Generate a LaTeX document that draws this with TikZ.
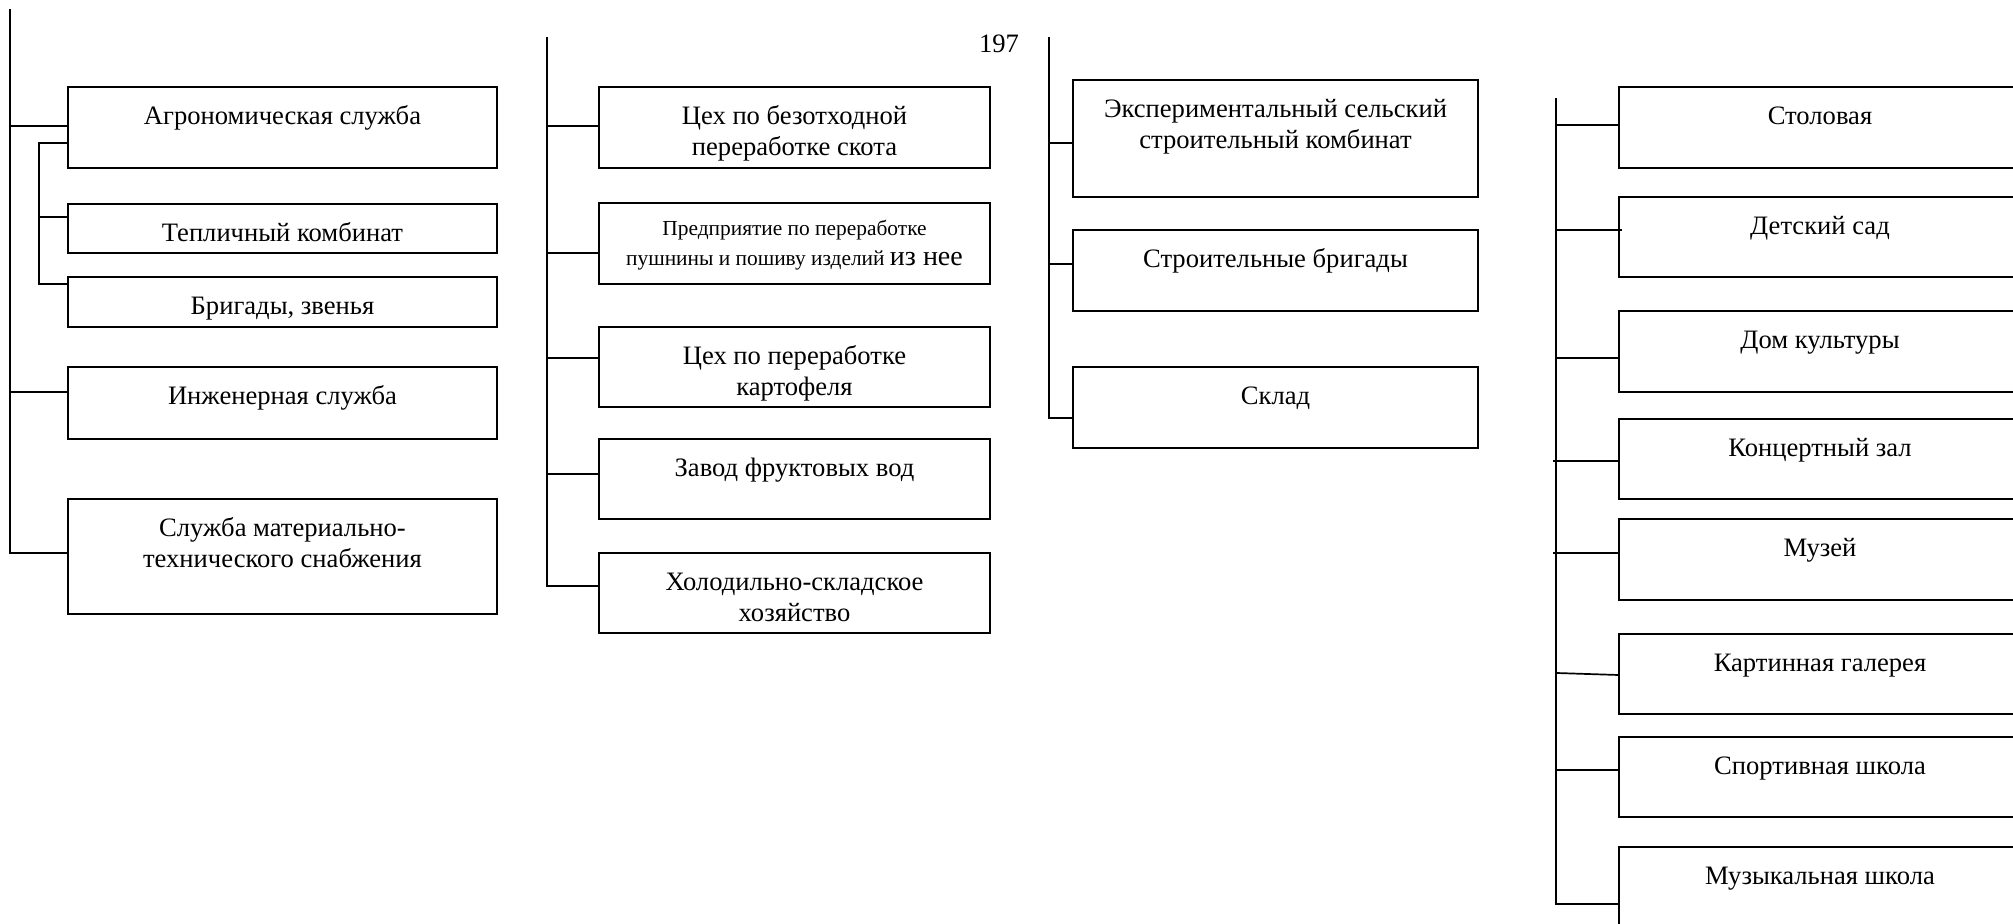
\documentclass[tikz,border=0pt]{standalone}
\usepackage{fontspec}
\setmainfont{Liberation Serif}
\newcommand\mainsz{\fontsize{13.3}{15.5}\selectfont}
\newcommand\smallsz{\fontsize{10.7}{15}\selectfont}
\newcommand\bigsz{\fontsize{14}{15}\selectfont}

\begin{document}
\begin{tikzpicture}[x=0.5pt, y=-0.5pt,
  unit/.style 2 args={draw, line width=1pt, anchor=north west, inner sep=0pt,
    outer sep=0pt, minimum width=#1*0.5pt, minimum height=#2*0.5pt},
  boxtext/.style={anchor=north, inner sep=0pt, align=center, font=\mainsz, yshift=-7.8pt},
  boxtextsmall/.style={anchor=north, inner sep=0pt, align=center, font=\smallsz, yshift=-5.7pt},
  link/.style={line width=0.85pt}
]
\useasboundingbox (0,0) rectangle (2013,923);
\clip (0,0) rectangle (2013,923);

% page number
\node[font=\mainsz, anchor=base, inner sep=0pt] (pnum) at (999,52) {197};

% ---------- column 1: services ----------
\node[unit={429}{81}]  (agro) at (68,87)  {};
\node[unit={429}{49}]  (tepl) at (68,204) {};
\node[unit={429}{50}]  (brig) at (68,277) {};
\node[unit={429}{72}]  (inzh) at (68,367) {};
\node[unit={429}{115}] (mts)  at (68,499) {};
\node[boxtext] (agro-t) at (agro.north) {\strut Агрономическая служба};
\node[boxtext] (tepl-t) at (tepl.north) {\strut Тепличный комбинат};
\node[boxtext] (brig-t) at (brig.north) {\strut Бригады, звенья};
\node[boxtext] (inzh-t) at (inzh.north) {\strut Инженерная служба};
\node[boxtext] (mts-t)  at (mts.north)  {\strut Служба материально-\\технического снабжения};

\coordinate (a0) at (10,9);
\coordinate (a1) at (10,126);
\coordinate (a2) at (10,392);
\coordinate (a3) at (10,553);
\draw[link] (a0) -- (a3) -- (a3 -| mts.west);
\draw[link] (a1) -- (a1 -| agro.west);
\draw[link] (a2) -- (a2 -| inzh.west);

\coordinate (b1) at (39,143);
\coordinate (b2) at (39,217);
\coordinate (b3) at (39,284);
\draw[link] (b1 -| agro.west) -- (b1) -- (b3) -- (b3 -| brig.west);
\draw[link] (b2) -- (b2 -| tepl.west);

% ---------- column 2: processing ----------
\node[unit={391}{81}] (cex)  at (599,87)  {};
\node[unit={391}{81}] (pred) at (599,203) {};
\node[unit={391}{80}] (kart) at (599,327) {};
\node[unit={391}{80}] (zav)  at (599,439) {};
\node[unit={391}{80}] (hol)  at (599,553) {};
\node[boxtext] (cex-t)  at (cex.north)  {\strut Цех по безотходной\\переработке скота};
\node[boxtextsmall] (pred-t) at (pred.north) {\strut Предприятие по переработке\\пушнины и пошиву изделий {\bigsz из нее}};
\node[boxtext] (kart-t) at (kart.north) {\strut Цех по переработке\\картофеля};
\node[boxtext] (zav-t)  at (zav.north)  {\strut Завод фруктовых вод};
\node[boxtext] (hol-t)  at (hol.north)  {\strut Холодильно-складское\\хозяйство};

\coordinate (c0) at (547,37);
\coordinate (c1) at (547,126);
\coordinate (c2) at (547,253);
\coordinate (c3) at (547,358);
\coordinate (c4) at (547,474);
\coordinate (c5) at (547,586);
\draw[link] (c0) -- (c5) -- (c5 -| hol.west);
\draw[link] (c1) -- (c1 -| cex.west);
\draw[link] (c2) -- (c2 -| pred.west);
\draw[link] (c3) -- (c3 -| kart.west);
\draw[link] (c4) -- (c4 -| zav.west);

% ---------- column 3: construction ----------
\node[unit={405}{117}] (esk)  at (1073,80)  {};
\node[unit={405}{81}]  (sbr)  at (1073,230) {};
\node[unit={405}{81}]  (skl)  at (1073,367) {};
\node[boxtext] (esk-t) at (esk.north) {\strut Экспериментальный сельский\\строительный комбинат};
\node[boxtext] (sbr-t) at (sbr.north) {\strut Строительные бригады};
\node[boxtext] (skl-t) at (skl.north) {\strut Склад};

\coordinate (d0) at (1049,37);
\coordinate (d1) at (1049,143);
\coordinate (d2) at (1049,264);
\coordinate (d3) at (1049,418);
\draw[link] (d0) -- (d3) -- (d3 -| skl.west);
\draw[link] (d1) -- (d1 -| esk.west);
\draw[link] (d2) -- (d2 -| sbr.west);

% ---------- column 4: social sphere ----------
\node[unit={402}{81}] (stol) at (1619,87)  {};
\node[unit={402}{80}] (det)  at (1619,197) {};
\node[unit={402}{81}] (dk)   at (1619,311) {};
\node[unit={402}{80}] (kz)   at (1619,419) {};
\node[unit={402}{81}] (muz)  at (1619,519) {};
\node[unit={402}{80}] (gal)  at (1619,634) {};
\node[unit={402}{80}] (sport) at (1619,737) {};
\node[unit={402}{85}] (mus)  at (1619,847) {};
\node[boxtext] (stol-t)  at (stol.north)  {\strut Столовая};
\node[boxtext] (det-t)   at (det.north)   {\strut Детский сад};
\node[boxtext] (dk-t)    at (dk.north)    {\strut Дом культуры};
\node[boxtext] (kz-t)    at (kz.north)    {\strut Концертный зал};
\node[boxtext] (muz-t)   at (muz.north)   {\strut Музей};
\node[boxtext] (gal-t)   at (gal.north)   {\strut Картинная галерея};
\node[boxtext] (sport-t) at (sport.north) {\strut Спортивная школа};
\node[boxtext] (mus-t)   at (mus.north)   {\strut Музыкальная школа};

\coordinate (e0) at (1556,98);
\coordinate (e1) at (1556,125);
\coordinate (e2) at (1556,230);
\coordinate (e3) at (1556,358);
\coordinate (e4) at (1553,461);
\coordinate (e5) at (1553,553);
\coordinate (e6) at (1557,673);
\coordinate (e7) at (1556,770);
\coordinate (e8) at (1556,904);
\draw[link] (e0) -- (e8) -- (e8 -| mus.west);
\draw[link] (e1) -- (e1 -| stol.west);
\draw[link] (e2) -- ([xshift=1.5pt]e2 -| det.west);
\draw[link] (e3) -- (e3 -| dk.west);
\draw[link] (e4) -- (e4 -| kz.west);
\draw[link] (e5) -- (e5 -| muz.west);
\draw[link] (e6) -- ([yshift=-1pt]e6 -| gal.west);
\draw[link] (e7) -- (e7 -| sport.west);
\end{tikzpicture}
\end{document}
